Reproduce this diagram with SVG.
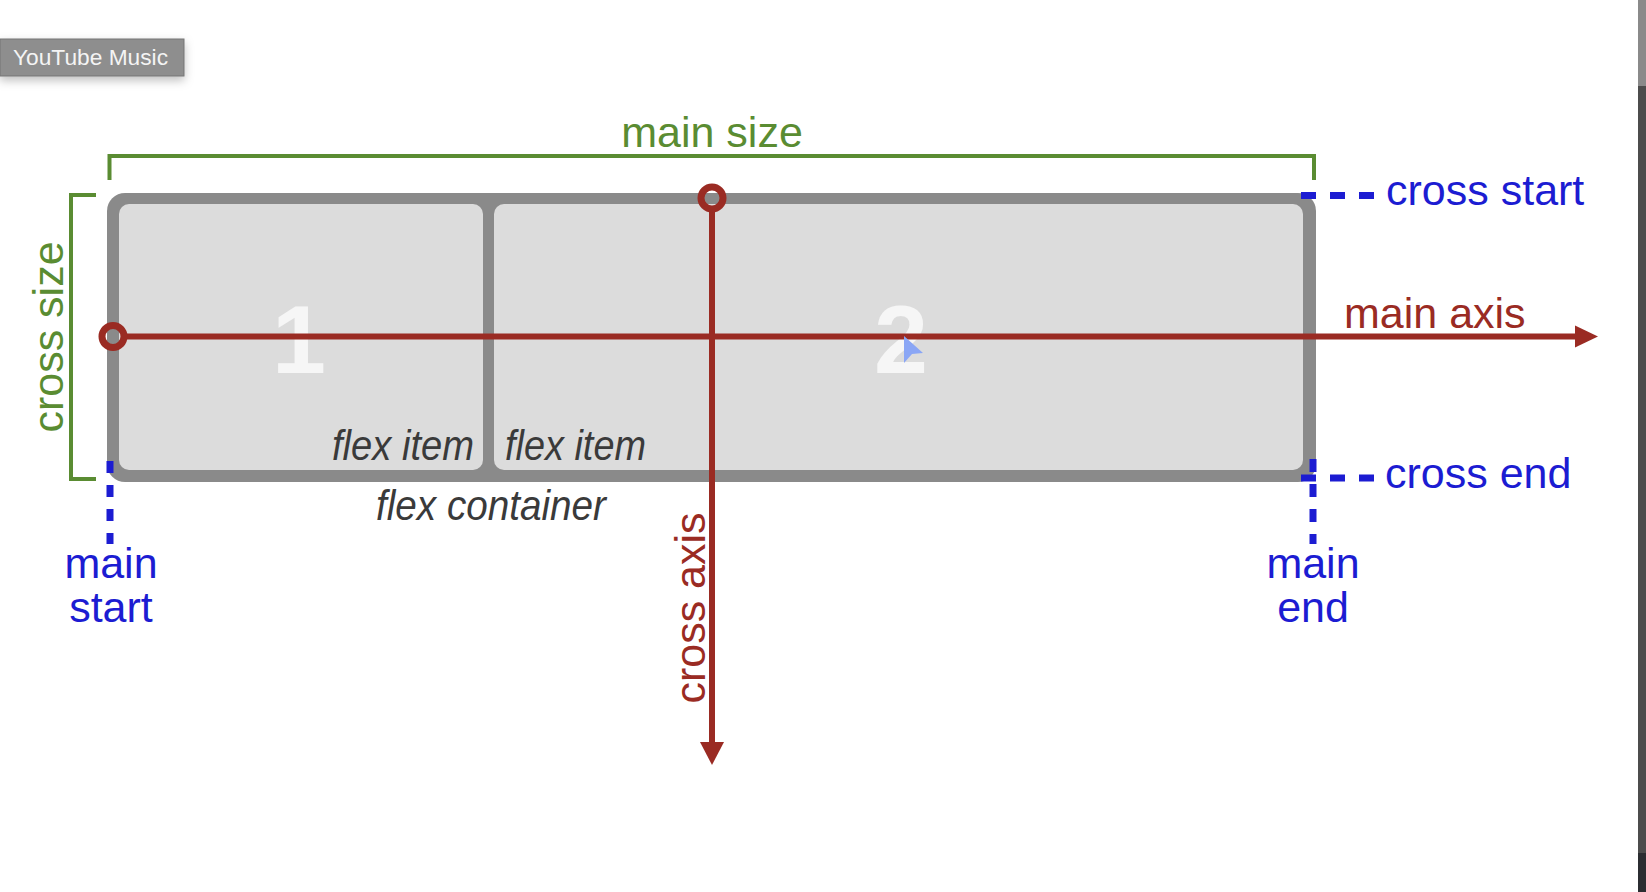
<svg xmlns="http://www.w3.org/2000/svg" width="1646" height="892" viewBox="0 0 1646 892">
  <style>
    .lbl { font-family: "Liberation Sans", Arial, Helvetica, sans-serif; font-size: 43px; }
    .green { fill: #5a8c32; }
    .blue { fill: #1c1cd2; }
    .red { fill: #9a2b23; }
    .item { fill: #dcdcdc; }
    .num { font-family: "Liberation Sans", Arial, sans-serif; font-weight: bold; font-size: 97px; fill: #f6f6f6; text-anchor: middle; }
    .it { font-family: "Liberation Sans", Arial, sans-serif; font-style: italic; font-size: 42px; fill: #3a3a3a; }
    .bracket { fill: none; stroke: #5a8c32; stroke-width: 4; }
    .dash { fill: none; stroke: #1c1cd2; stroke-width: 7; }
    .axis { fill: none; stroke: #9a2b23; stroke-width: 6; }
    .ring { fill: none; stroke: #9a2b23; stroke-width: 7; }
    .head { fill: #9a2b23; }
  </style>
  <defs>
    <filter id="shadow" x="-20%" y="-50%" width="140%" height="220%">
      <feDropShadow dx="0" dy="4" stdDeviation="5" flood-color="#000" flood-opacity="0.25"/>
    </filter>
  </defs>

  <rect x="0" y="0" width="1646" height="892" fill="#ffffff"/>

  <!-- right window edge -->
  <g id="window-edge">
    <rect x="1638" y="0" width="8" height="86" fill="#8a8a8a"/>
    <rect x="1638" y="86" width="8" height="767" fill="#4c4c4c"/>
    <rect x="1638" y="853" width="8" height="39" fill="#2b2d31"/>
  </g>

  <!-- tooltip -->
  <g id="tooltip">
    <rect x="0" y="39" width="184" height="37" fill="#8e8e8e" stroke="#747474" stroke-width="1" filter="url(#shadow)"/>
    <text x="13" y="65" font-family="'Liberation Sans', Arial, sans-serif" font-size="22" fill="#f4f4f4" textLength="155" lengthAdjust="spacingAndGlyphs">YouTube Music</text>
  </g>

  <!-- flex container -->
  <g id="flex-container">
    <rect x="107" y="193" width="1209" height="289" rx="18" fill="#8a8a8a"/>
    <text class="it" x="376" y="520" textLength="230" lengthAdjust="spacingAndGlyphs">flex container</text>
  </g>

  <g id="item-1">
    <rect class="item" x="119" y="204" width="364" height="266" rx="10"/>
    <text class="num" x="299" y="373">1</text>
    <text class="it" x="332" y="460" textLength="142" lengthAdjust="spacingAndGlyphs">flex item</text>
  </g>

  <g id="item-2">
    <rect class="item" x="494" y="204" width="809" height="266" rx="10"/>
    <text class="num" x="901" y="373">2</text>
    <text class="it" x="505" y="460" textLength="141" lengthAdjust="spacingAndGlyphs">flex item</text>
  </g>

  <!-- connectors: brackets, dashed guides, axes -->
  <g id="connectors">
    <path class="bracket" d="M109.5,180 V156 H1314 V180"/>
    <path class="bracket" d="M96,195 H71 V479 H96"/>

    <path class="dash" d="M1301,195.5 H1374" stroke-dasharray="15 14"/>
    <path class="dash" d="M1301,478 H1374" stroke-dasharray="15 14"/>
    <path class="dash" d="M110,461 V544" stroke-dasharray="12 12"/>
    <path class="dash" d="M1313,459 V544" stroke-dasharray="13 12"/>

    <line class="axis" x1="124" y1="336.5" x2="1577" y2="336.5"/>
    <polygon class="head" points="1575,325.5 1598,336.5 1575,347.5"/>
    <circle class="ring" cx="113" cy="336.5" r="11"/>

    <line class="axis" x1="712" y1="209" x2="712" y2="744"/>
    <polygon class="head" points="700,742 724,742 712,765"/>
    <circle class="ring" cx="712" cy="198" r="11"/>
  </g>

  <!-- labels -->
  <g id="label-main-size">
    <text class="lbl green" x="712" y="147" text-anchor="middle">main size</text>
  </g>
  <g id="label-cross-size">
    <text class="lbl green" transform="translate(63,337) rotate(-90)" text-anchor="middle">cross size</text>
  </g>
  <g id="label-cross-start">
    <text class="lbl blue" x="1386" y="205">cross start</text>
  </g>
  <g id="label-cross-end">
    <text class="lbl blue" x="1385" y="488">cross end</text>
  </g>
  <g id="label-main-axis">
    <text class="lbl red" x="1344" y="328">main axis</text>
  </g>
  <g id="label-cross-axis">
    <text class="lbl red" transform="translate(705,608) rotate(-90)" text-anchor="middle">cross axis</text>
  </g>
  <g id="label-main-start">
    <text class="lbl blue" x="111" y="578" text-anchor="middle" font-size="42">main</text>
    <text class="lbl blue" x="111" y="622" text-anchor="middle" font-size="42">start</text>
  </g>
  <g id="label-main-end">
    <text class="lbl blue" x="1313" y="578" text-anchor="middle" font-size="42">main</text>
    <text class="lbl blue" x="1313" y="622" text-anchor="middle" font-size="42">end</text>
  </g>

  <!-- mouse pointer -->
  <g id="pointer">
    <polygon points="904,336 923,353 912,354 904,363" fill="#8aa6f5"/>
  </g>
</svg>
